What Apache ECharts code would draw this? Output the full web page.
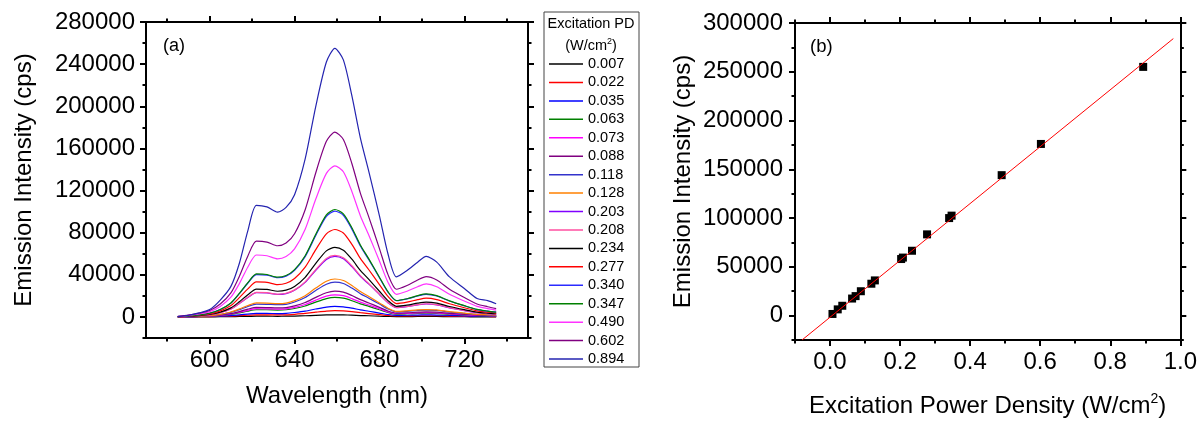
<!DOCTYPE html>
<html>
<head>
<meta charset="utf-8">
<script src="https://cdn.jsdelivr.net/npm/echarts@6/dist/echarts.min.js"></script>
<style>html,body{margin:0;padding:0;background:#fff}#c{width:1200px;height:423px}</style>
</head>
<body>
<div id="c"></div>
<script>
// ---------- DATA ----------
const wavelength = [585,590,595,600,605,610,614,618,622,627,632,636,640,645,650,655,659,663,667,671,675,680,684,688,693,698,702,707,713,720,726,731,735];
const pdLabels = ['0.007','0.022','0.035','0.063','0.073','0.088','0.118','0.128','0.203','0.208','0.234','0.277','0.340','0.347','0.490','0.602','0.894'];

const s0007 = [0,100,100,100,200,300,400,500,700,700,600,700,800,1100,1500,1900,2000,1900,1700,1300,1100,700,500,300,300,400,400,400,300,200,100,100,100];
const s0022 = [100,200,200,300,500,800,1200,1600,2000,2000,1900,2000,2500,3300,4500,5600,6000,5800,5000,4000,3200,2200,1400,900,1000,1100,1100,1100,800,600,400,400,300];
const s0035 = [200,300,400,500,800,1300,2000,2700,3300,3300,3200,3400,4200,5500,7500,9400,10000,9600,8300,6700,5400,3700,2300,1500,1600,1800,1900,1800,1400,1000,700,600,500];
const s0063 = [100,200,400,600,1300,2400,3900,5600,6800,6800,6500,6800,8000,10400,14100,17400,18500,17800,15400,12400,10000,6800,4300,2700,3000,3400,3600,3400,2600,1900,1300,1000,800];
const s0073 = [100,200,400,700,1500,2700,4400,6300,7800,7700,7400,7700,9000,11800,16000,19700,21000,20200,17400,14100,11300,7800,4800,3000,3400,3900,4100,3900,2900,2100,1500,1200,900];
const s0088 = [100,200,500,900,1700,3200,5100,7400,9100,8900,8600,8900,10500,13700,18600,23000,24500,23500,20300,16400,13200,9100,5600,3600,3900,4500,4800,4500,3400,2500,1700,1300,1100];
const s0118 = [100,300,700,1200,2300,4300,6900,9900,12200,12000,11600,12000,14200,18500,25100,31000,33000,31700,27400,22100,17800,12200,7600,4800,5300,6100,6400,6100,4600,3300,2300,1800,1500];
const s0128 = [100,400,700,1300,2500,4700,7600,10800,13300,13100,12600,13100,15500,20200,27400,33800,36000,34600,29900,24100,19400,13300,8300,5200,5800,6700,7000,6700,5000,3600,2500,2000,1600];
const s0203 = [200,600,1200,2000,4000,7500,12700,18400,23000,22700,21300,22100,25300,32800,44300,54600,57500,55200,47700,38500,31100,21300,13500,8800,9800,11400,12300,11400,8600,6000,4000,3200,2600];
const s0208 = [200,600,1200,2000,4100,7600,12900,18700,23400,23100,21600,22500,25700,33300,45000,55600,58500,56200,48600,39200,31600,21600,13700,9000,9900,11600,12500,11600,8800,6100,4100,3200,2600];
const s0234 = [200,700,1300,2300,4600,8600,14500,21100,26400,26100,24400,25400,29000,37600,50800,62700,66000,63400,54800,44200,35600,24400,15500,10100,11200,13100,14100,13100,9900,6900,4600,3600,3000];
const s0277 = [200,800,1700,2900,5800,10800,18300,26600,33200,32800,30700,32000,36500,47300,63900,78900,83000,79700,68900,55600,44800,30700,19500,12700,14100,16400,17800,16400,12500,8700,5800,4600,3700];
const s0340 = [300,1000,2000,3500,7000,13100,22100,32200,40200,39700,37200,38700,44200,57300,77400,95500,100500,96500,83400,67300,54300,37200,23600,15400,17100,19900,21500,19900,15100,10600,7000,5500,4500];
const s0347 = [300,1000,2000,3600,7100,13300,22400,32600,40800,40300,37700,39300,44900,58100,78500,96900,102000,97900,84700,68300,55100,37700,24000,15600,17300,20200,21800,20200,15300,10700,7100,5600,4600];
const s0490 = [400,1400,2900,5000,10000,18700,31600,47400,58800,58100,55200,57400,64600,83200,111900,136300,143500,137800,119100,96100,77500,53100,33000,21500,24400,28700,31300,28700,21500,15100,10000,7900,6500];
const s0602 = [500,1800,3500,6100,12300,22800,38600,57900,72000,71100,67600,70200,79000,101800,136900,166700,175500,168500,145700,117600,94800,64900,40400,26300,29800,35100,38300,35100,26300,18400,12300,9700,7900];
const s0894 = [300,1600,3800,7000,16000,29000,51000,82000,106000,104500,99500,104000,116000,150000,200000,242000,255000,244000,210000,170000,138000,96000,60000,38000,44000,52000,57500,52000,38000,27000,17500,15500,12500];
const spectra = [s0007,s0022,s0035,s0063,s0073,s0088,s0118,s0128,s0203,s0208,s0234,s0277,s0340,s0347,s0490,s0602,s0894];

const powerDensity = [0.007,0.022,0.035,0.063,0.073,0.088,0.118,0.128,0.203,0.208,0.234,0.277,0.340,0.347,0.490,0.602,0.894];
const peakIntensity = [1700,6400,10100,17500,20000,25000,32700,36100,58000,59500,66500,83300,100000,102500,144000,176000,255000];
const fitX = [-0.08, 0.98];
const fitY = [-25000, 284000];

const leftXMajor = [600,640,680,720];
const leftXMinor = [580,620,660,700,740];
const leftYMajor = [0,40000,80000,120000,160000,200000,240000,280000];
const leftYMinor = [-20000,20000,60000,100000,140000,180000,220000,260000];
const rightXMajor = [0,0.2,0.4,0.6,0.8,1.0];
const rightXMinor = [-0.1,0.1,0.3,0.5,0.7,0.9];
const rightYMajor = [0,50000,100000,150000,200000,250000,300000];
const rightYMinor = [-25000,25000,75000,125000,175000,225000,275000];

// ---------- STYLE ----------
const colors = ['#000000','#FF0000','#0000FF','#008000','#FF00FF','#800080','#3333CC','#FF8000','#8000FF','#FF4FA0','#000000','#FF0000','#2B2BFF','#008000','#FF33FF','#800080','#2424B0'];
const FONT = 'Arial, "Liberation Sans", sans-serif';
const chart = echarts.init(document.getElementById('c'), null, {renderer:'canvas'});

function mkAxis(type, grid, pos, min, max, vals, opts) {
  return Object.assign({
    type:'value', gridIndex:grid, position:pos, min:min, max:max,
    splitLine:{show:false},
    axisLine:{show:true, onZero:false, lineStyle:{color:'#000', width:2}},
    axisTick:{show:true, length:6, inside:false, customValues:vals, lineStyle:{color:'#000', width:2}},
    axisLabel:{show:false, customValues:vals}
  }, opts || {});
}
function mkMinor(grid, pos, min, max, vals) {
  return {
    type:'value', gridIndex:grid, position:pos, min:min, max:max,
    splitLine:{show:false},
    axisLine:{show:false, onZero:false},
    axisTick:{show:true, length:3.5, inside:false, customValues:vals, lineStyle:{color:'#000', width:2}},
    axisLabel:{show:false, customValues:vals}
  };
}
const labStyle = {show:true, fontSize:24, color:'#000', fontFamily:FONT};
const plain = v => String(Math.round(v));

const xAxes = [
  mkAxis('x',0,'bottom',570,750,leftXMajor,{
    axisLabel:Object.assign({}, labStyle, {customValues:leftXMajor, margin:10, formatter:plain}),
    name:'Wavelength (nm)', nameLocation:'middle', nameGap:46,
    nameTextStyle:{fontSize:24, color:'#000', fontFamily:FONT}
  }),
  mkMinor(0,'bottom',570,750,leftXMinor),
  mkAxis('x',0,'top',570,750,leftXMajor),
  mkMinor(0,'top',570,750,leftXMinor),
  mkAxis('x',1,'bottom',-0.1,1.0,rightXMajor,{
    axisLabel:Object.assign({}, labStyle, {customValues:rightXMajor, margin:10, formatter:v=>Number(v).toFixed(1)}),
    name:'{a|Excitation Power Density (W/cm}{s|2}{a|)}', nameLocation:'middle', nameGap:52,
    nameTextStyle:{fontFamily:FONT, color:'#000', rich:{
      a:{fontSize:24, color:'#000', fontFamily:FONT, lineHeight:28},
      s:{fontSize:14, color:'#000', fontFamily:FONT, verticalAlign:'top', lineHeight:28}
    }}
  }),
  mkMinor(1,'bottom',-0.1,1.0,rightXMinor),
  mkAxis('x',1,'top',-0.1,1.0,rightXMajor),
  mkMinor(1,'top',-0.1,1.0,rightXMinor)
];
const yAxes = [
  mkAxis('y',0,'left',-20000,280000,leftYMajor,{
    axisLabel:Object.assign({}, labStyle, {customValues:leftYMajor, margin:11, formatter:plain}),
    name:'Emission Intensity (cps)', nameLocation:'middle', nameGap:110, nameRotate:90,
    nameTextStyle:{fontSize:24, color:'#000', fontFamily:FONT}
  }),
  mkMinor(0,'left',-20000,280000,leftYMinor),
  mkAxis('y',0,'right',-20000,280000,leftYMajor),
  mkMinor(0,'right',-20000,280000,leftYMinor),
  mkAxis('y',1,'left',-25000,300000,rightYMajor,{
    axisLabel:Object.assign({}, labStyle, {customValues:rightYMajor, margin:12, formatter:plain}),
    name:'Emission Intensity (cps)', nameLocation:'middle', nameGap:100, nameRotate:90,
    nameTextStyle:{fontSize:24, color:'#000', fontFamily:FONT}
  }),
  mkMinor(1,'left',-25000,300000,rightYMinor),
  mkAxis('y',1,'right',-25000,300000,rightYMajor),
  mkMinor(1,'right',-25000,300000,rightYMinor)
];

const series = spectra.map((vals, i) => ({
  name: pdLabels[i], type:'line', xAxisIndex:0, yAxisIndex:0,
  data: wavelength.map((w, j) => [w, vals[j]]),
  symbol:'none', smooth:0.25, color:colors[i],
  lineStyle:{color:colors[i], width:1.2}, itemStyle:{color:colors[i]},
  silent:true, animation:false, z:2+i
}));
series.push({
  type:'scatter', xAxisIndex:4, yAxisIndex:4,
  data: powerDensity.map((x, i) => [x, peakIntensity[i]]),
  symbol:'rect', symbolSize:8, itemStyle:{color:'#000', opacity:1}, animation:false, z:3
});
series.push({
  type:'line', xAxisIndex:4, yAxisIndex:4,
  data: fitX.map((x, i) => [x, fitY[i]]),
  symbol:'none', lineStyle:{color:'#FF0000', width:1}, animation:false, z:5
});

chart.setOption({
  animation:false,
  backgroundColor:'#fff',
  textStyle:{fontFamily:FONT},
  grid:[
    {left:146, top:22, width:382, height:316, containLabel:false},
    {left:795, top:23, width:387, height:321, containLabel:false}
  ],
  xAxis:xAxes,
  yAxis:yAxes,
  legend:{
    data:pdLabels, orient:'vertical', left:549, top:54.8, padding:0,
    itemWidth:34, itemHeight:1.5, icon:'rect', itemGap:0, itemTextGap:4,
    selectedMode:false,
    textStyle:{fontSize:14.5, color:'#000', fontFamily:FONT, lineHeight:18.44}
  },
  graphic:[
    {type:'rect', shape:{x:544, y:12, width:95, height:355}, style:{fill:'none', stroke:'#444', lineWidth:1}, z:10},
    {type:'text', x:591, y:24, style:{text:'Excitation PD', fontSize:14.5, fontFamily:FONT, fill:'#000', align:'center', verticalAlign:'middle'}, z:10},
    {type:'text', x:591, y:46, style:{text:'{a|(W/cm}{s|2}{a|)}', align:'center', verticalAlign:'middle',
      rich:{a:{fontSize:14.5, fontFamily:FONT, fill:'#000', lineHeight:17}, s:{fontSize:9, fontFamily:FONT, fill:'#000', verticalAlign:'top', lineHeight:17}}}, z:10},
    {type:'text', x:163, y:46, style:{text:'(a)', fontSize:18, fontFamily:FONT, fill:'#000', verticalAlign:'middle'}, z:10},
    {type:'text', x:810, y:47, style:{text:'(b)', fontSize:18.5, fontFamily:FONT, fill:'#000', verticalAlign:'middle'}, z:10}
  ],
  series:series
});
</script>
</body>
</html>
